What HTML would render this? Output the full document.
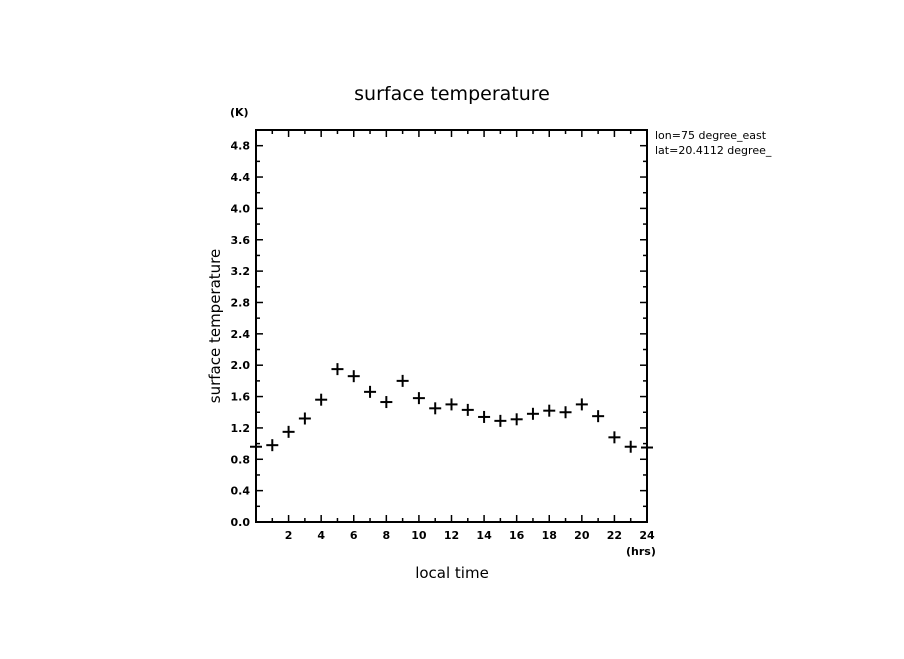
<!DOCTYPE html>
<html><head><meta charset="utf-8"><style>
body{margin:0;background:#fff;}
svg text{font-family:"DejaVu Sans","Liberation Sans",sans-serif;fill:#000;}
</style></head><body>
<svg width="904" height="654" xmlns="http://www.w3.org/2000/svg">
<text x="452" y="100" font-size="19" text-anchor="middle">surface temperature</text>
<text x="230" y="116" font-size="11" font-weight="bold">(K)</text>
<text x="655" y="139" font-size="11">lon=75 degree_east</text>
<text x="655" y="154" font-size="11">lat=20.4112 degree_</text>
<text x="626" y="555" font-size="11" font-weight="bold">(hrs)</text>
<text x="452" y="578" font-size="15" text-anchor="middle">local time</text>
<text x="0" y="0" font-size="15" text-anchor="middle" transform="translate(220,326) rotate(-90)">surface temperature</text>
<rect x="256" y="130" width="391" height="392" fill="none" stroke="#000" stroke-width="2"/>
<g id="axes"></g>
<g id="marks"></g>
</svg>
<script>
const hours=[0,1,2,3,4,5,6,7,8,9,10,11,12,13,14,15,16,17,18,19,20,21,22,23,24];
const temps=[0.96,0.98,1.15,1.32,1.56,1.95,1.86,1.66,1.53,1.80,1.58,1.45,1.50,1.43,1.34,1.29,1.31,1.38,1.42,1.40,1.50,1.35,1.08,0.96,0.95];
const xTickLabels=["2","4","6","8","10","12","14","16","18","20","22","24"];
const yTickLabels=["0.0","0.4","0.8","1.2","1.6","2.0","2.4","2.8","3.2","3.6","4.0","4.4","4.8"];
const X0=256,X1=647,Y0=522,Y1=130;
const xs=h=>X0+(h/24)*(X1-X0);
const ys=v=>Y0-(v/5)*(Y0-Y1);
const NS="http://www.w3.org/2000/svg";
const ax=document.getElementById('axes'),mk=document.getElementById('marks');
function line(p,x1,y1,x2,y2,w){const l=document.createElementNS(NS,'line');l.setAttribute('x1',x1);l.setAttribute('y1',y1);l.setAttribute('x2',x2);l.setAttribute('y2',y2);l.setAttribute('stroke','#000');l.setAttribute('stroke-width',w||1.5);p.appendChild(l);return l;}
for(let h=1;h<24;h++){const x=xs(h),L=h%2==0?7:4;
 let t=line(ax,x,Y0,x,Y0-L);
 t=line(ax,x,Y1,x,Y1+L);}
xTickLabels.forEach(s=>{const t=document.createElementNS(NS,'text');t.setAttribute('x',xs(+s));t.setAttribute('y',Y0+17);t.setAttribute('font-size','11');t.setAttribute('font-weight','bold');t.setAttribute('text-anchor','middle');t.textContent=s;
 
 
 ax.appendChild(t);});
for(let i=1;i<25;i++){const v=i*0.2,y=ys(v),L=i%2==0?7:4;
 let t=line(ax,X0,y,X0+L,y);
 t=line(ax,X1,y,X1-L,y);}
yTickLabels.forEach(s=>{const t=document.createElementNS(NS,'text');t.setAttribute('x',X0-6);t.setAttribute('y',ys(+s)+4);t.setAttribute('font-size','11');t.setAttribute('font-weight','bold');t.setAttribute('text-anchor','end');t.textContent=s;
 
 
 ax.appendChild(t);});
hours.forEach((h,i)=>{const x=xs(h),y=ys(temps[i]);const g=document.createElementNS(NS,'g');
 
 
 line(g,x-6,y,x+6,y,2);line(g,x,y-6,x,y+6,2);mk.appendChild(g);});
</script>
</body></html>
